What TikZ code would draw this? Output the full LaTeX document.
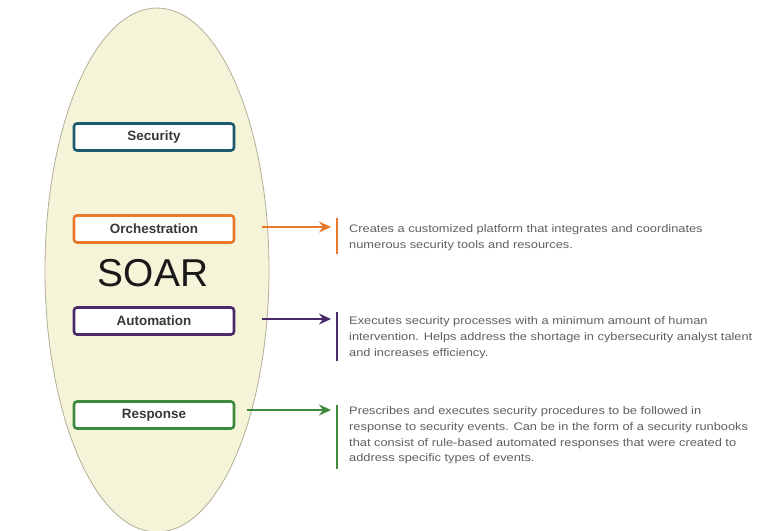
\documentclass[tikz,border=0pt]{standalone}
\usepackage{fontspec}
\setmainfont{Liberation Sans}
\newfontfamily\descfont[FakeStretch=1.17]{Liberation Sans}
\usetikzlibrary{arrows.meta}

\definecolor{cream}{HTML}{F5F4D9}
\definecolor{rimgrey}{HTML}{B3AE98}
\definecolor{secteal}{HTML}{1E5A6E}
\definecolor{orchorange}{HTML}{E8782A}
\definecolor{autopurple}{HTML}{4A2A6A}
\definecolor{respgreen}{HTML}{3D8A3F}
\definecolor{labelgrey}{HTML}{383838}
\definecolor{descgrey}{HTML}{606060}

\tikzset{
  rim/.style={fill=cream, draw=rimgrey, line width=0.8bp},
  tagbox/.style={draw, fill=white, rounded corners=3bp, line width=2.6bp,
    minimum width=160bp, minimum height=27bp, inner sep=0pt,
    text=labelgrey, font=\fontsize{13.5}{15}\selectfont\bfseries},
  link/.style={line width=2.3bp, -{Stealth[length=12bp, width=11bp, inset=4bp]}},
  sidebar/.style={line width=2.4bp},
  desc/.style={anchor=north west, inner sep=0pt, align=left, text=descgrey,
    font=\descfont\fontsize{11}{16}\selectfont}
}

\begin{document}
\begin{tikzpicture}[x=1bp, y=-1bp]
  \useasboundingbox (0,0) rectangle (768,531);
  \fill[white] (0,0) rectangle (768,531);

  % the SOAR envelope
  \draw[rim] (157,270) ellipse [x radius=112, y radius=262];
  \node[font=\fontsize{39}{42}\selectfont, text=black!90] (soar) at (153,273) {SOAR};

  % the four capability tags
  \node[tagbox, draw=secteal]    (sec)  at (154,137) {Security};
  \node[tagbox, draw=orchorange] (orch) at (154,229) {Orchestration};
  \node[tagbox, draw=autopurple] (auto) at (154,321) {Automation};
  \node[tagbox, draw=respgreen]  (resp) at (154,415) {Response};

  % arrow start and end points
  \coordinate (orchA) at (262,227);
  \coordinate (orchB) at (331,227);
  \coordinate (autoA) at (262,319);
  \coordinate (autoB) at (331,319);
  \coordinate (respA) at (247,410);
  \coordinate (respB) at (331,410);

  % side bars in front of each description
  \coordinate (orchT) at (337,218); \coordinate (orchU) at (337,254);
  \coordinate (autoT) at (337,312); \coordinate (autoU) at (337,361);
  \coordinate (respT) at (337,405); \coordinate (respU) at (337,469);

  \draw[link, orchorange] (orchA) -- (orchB);
  \draw[link, autopurple] (autoA) -- (autoB);
  \draw[link, respgreen]  (respA) -- (respB);

  \draw[sidebar, orchorange] (orchT) -- (orchU);
  \draw[sidebar, autopurple] (autoT) -- (autoU);
  \draw[sidebar, respgreen]  (respT) -- (respU);

  % descriptions
  \node[desc] (orchtxt) at (349,224) {Creates a customized platform that integrates and coordinates\\
    numerous security tools and resources.};
  \node[desc] (autotxt) at (349,316) {Executes security processes with a minimum amount of human\\
    intervention. Helps address the shortage in cybersecurity analyst talent\\
    and increases efficiency.};
  \node[desc] (resptxt) at (349,406) {Prescribes and executes security procedures to be followed in\\
    response to security events. Can be in the form of a security runbooks\\
    that consist of rule-based automated responses that were created to\\
    address specific types of events.};
\end{tikzpicture}
\end{document}
